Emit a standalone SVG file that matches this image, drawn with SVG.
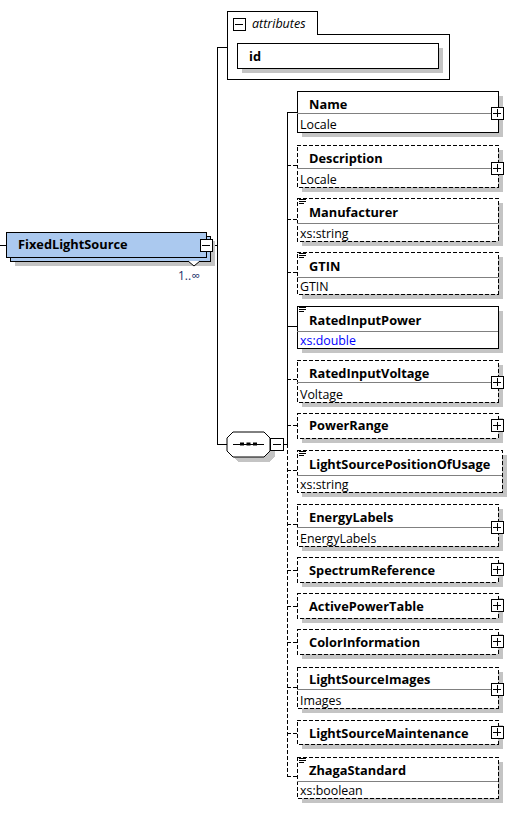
<svg xmlns="http://www.w3.org/2000/svg" width="524" height="816" viewBox="0 0 524 816">
<style>
.bg{fill:#ffffff}
.shadow{fill:#c4c4c4;shape-rendering:crispEdges}
.box{fill:#ffffff;stroke:#000;stroke-width:1;shape-rendering:crispEdges}
.dbox{fill:#ffffff;stroke:#000;stroke-width:1;stroke-dasharray:4 2;shape-rendering:crispEdges}
.sep{stroke:#808080;stroke-width:1;shape-rendering:crispEdges}
.line{stroke:#000;stroke-width:1;fill:none;shape-rendering:crispEdges}
.dline{stroke:#000;stroke-width:1;fill:none;stroke-dasharray:4 2;shape-rendering:crispEdges}
.name{font-family:"Open Sans","Noto Sans","Liberation Sans",sans-serif;font-weight:bold;font-size:12.8px;fill:#000}
.type{font-family:"Open Sans","Noto Sans","Liberation Sans",sans-serif;font-size:12.4px;fill:#000}
.blue{fill:#0000ff}
.icon{fill:#fff;stroke:#000;stroke-width:1;shape-rendering:crispEdges}
.doc{stroke:#000;stroke-width:1;shape-rendering:crispEdges}
.main{fill:#abc9ef;stroke:#000;stroke-width:1;shape-rendering:crispEdges}
</style>
<defs>
<g id="plus">
<rect class="icon" x="-6" y="-6" width="12" height="12"/>
<path class="line" d="M-4 0H4M0 -4V4"/>
</g>
<g id="minus">
<rect class="icon" x="-6" y="-6" width="12" height="12"/>
<path class="line" d="M-4 0H4"/>
</g>
<g id="docicon">
<path class="doc" d="M0 1.5H7M0 3.5H7M0 5.5H5"/>
</g>
</defs>
<rect class="bg" x="0" y="0" width="524" height="816"/>

<g id="connectors">
<path class="line" d="M0 245H6"/>
<path class="line" d="M213 245H217"/>
<path class="line" d="M217 47V444"/>
<path class="line" d="M217 47H227"/>
<path class="line" d="M217 444H227"/>
<path class="line" d="M283 444H287"/>
<path class="line" d="M287 112V444"/>
<path class="dline" d="M287 444V776"/>
<path class="line" d="M287 112H297"/>
<path class="dline" d="M287 165H297"/>
<path class="dline" d="M287 219H297"/>
<path class="dline" d="M287 272H297"/>
<path class="line" d="M287 326H297"/>
<path class="dline" d="M287 379H297"/>
<path class="dline" d="M287 425H297"/>
<path class="dline" d="M287 470H297"/>
<path class="dline" d="M287 524H297"/>
<path class="dline" d="M287 570H297"/>
<path class="dline" d="M287 606H297"/>
<path class="dline" d="M287 642H297"/>
<path class="dline" d="M287 687H297"/>
<path class="dline" d="M287 733H297"/>
<path class="dline" d="M287 776H297"/>
</g>

<g id="FixedLightSource">
<rect class="shadow" x="15" y="241" width="200" height="25"/>
<rect class="main" x="10" y="236" width="200" height="25"/>
<rect class="main" x="6" y="232" width="200" height="25"/>
<path d="M188 261L194 266L200 261" fill="#fff" stroke="#000"/>
<text class="name" x="18" y="249">FixedLightSource</text>
<use href="#minus" x="206" y="245"/>
<text x="178" y="280" style="font-family:'Open Sans','Liberation Sans',sans-serif;font-size:12px;fill:#1a2f6a">1..∞</text>
</g>

<g id="attributes">
<path class="box" d="M227 79V11H317V34H449V79Z"/>
<use href="#minus" x="239" y="24"/>
<text x="252" y="28" style="font-family:'Open Sans','Liberation Sans',sans-serif;font-style:italic;font-size:12.5px;fill:#000">attributes</text>
<g id="attr-id">
<rect class="shadow" x="242" y="48" width="201" height="25"/>
<rect class="box" x="237" y="43" width="201" height="25"/>
<text class="name" x="249" y="61">id</text>
</g>
</g>

<g id="sequence">
<path class="shadow" d="M238 437H269L275 443V456L269 462H238L232 456V443Z"/>
<path class="box" d="M233 432H264L270 438V451L264 457H233L227 451V438Z" style="shape-rendering:auto"/>
<path class="line" d="M233 444H264"/>
<rect x="240" y="442.5" width="4" height="3" fill="#000"/>
<rect x="246.5" y="442.5" width="4" height="3" fill="#000"/>
<rect x="253" y="442.5" width="4" height="3" fill="#000"/>
<rect class="icon" x="270" y="438" width="13" height="12"/>
<path class="line" d="M272.5 444H280.5"/>
</g>

<g id="Name">
<rect class="shadow" x="302" y="96" width="201" height="41"/>
<rect class="box" x="297" y="91" width="201" height="41"/>
<path class="sep" d="M297 113H498"/>
<text class="name" x="309" y="109">Name</text>
<text class="type" x="300" y="129">Locale</text>
<use href="#plus" x="497" y="113"/>
</g>

<g id="Description">
<rect class="shadow" x="302" y="150" width="201" height="42"/>
<rect class="dbox" x="297" y="145" width="201" height="42"/>
<path class="sep" d="M297 168H498"/>
<text class="name" x="309" y="163">Description</text>
<text class="type" x="300" y="184">Locale</text>
<use href="#plus" x="497" y="168"/>
</g>

<g id="Manufacturer">
<rect class="shadow" x="302" y="203" width="201" height="43"/>
<rect class="dbox" x="297" y="198" width="201" height="43"/>
<path class="sep" d="M297 223H498"/>
<use href="#docicon" x="299" y="198"/>
<text class="name" x="309" y="217">Manufacturer</text>
<text class="type" x="300" y="238">xs:string</text>
</g>

<g id="GTIN">
<rect class="shadow" x="302" y="257" width="201" height="42"/>
<rect class="dbox" x="297" y="252" width="201" height="42"/>
<path class="sep" d="M297 277H498"/>
<use href="#docicon" x="299" y="252"/>
<text class="name" x="309" y="271">GTIN</text>
<text class="type" x="300" y="291">GTIN</text>
</g>

<g id="RatedInputPower">
<rect class="shadow" x="302" y="311" width="201" height="42"/>
<rect class="box" x="297" y="306" width="201" height="42"/>
<path class="sep" d="M297 331H498"/>
<use href="#docicon" x="299" y="306"/>
<text class="name" x="309" y="325">RatedInputPower</text>
<text class="type blue" x="300" y="345">xs:double</text>
</g>

<g id="RatedInputVoltage">
<rect class="shadow" x="302" y="365" width="201" height="42"/>
<rect class="dbox" x="297" y="360" width="201" height="42"/>
<path class="sep" d="M297 382H498"/>
<text class="name" x="309" y="378">RatedInputVoltage</text>
<text class="type" x="300" y="399">Voltage</text>
<use href="#plus" x="497" y="382"/>
</g>

<g id="PowerRange">
<rect class="shadow" x="302" y="418" width="201" height="25"/>
<rect class="dbox" x="297" y="413" width="201" height="25"/>
<text class="name" x="309" y="430">PowerRange</text>
<use href="#plus" x="497" y="425.5"/>
</g>

<g id="LightSourcePositionOfUsage">
<rect class="shadow" x="302" y="455" width="205" height="42"/>
<rect class="dbox" x="297" y="450" width="205" height="42"/>
<path class="sep" d="M297 475H502"/>
<use href="#docicon" x="299" y="450"/>
<text class="name" x="309" y="469">LightSourcePositionOfUsage</text>
<text class="type" x="300" y="489">xs:string</text>
</g>

<g id="EnergyLabels">
<rect class="shadow" x="302" y="509" width="201" height="42"/>
<rect class="dbox" x="297" y="504" width="201" height="42"/>
<path class="sep" d="M297 527H498"/>
<text class="name" x="309" y="522">EnergyLabels</text>
<text class="type" x="300" y="543">EnergyLabels</text>
<use href="#plus" x="497" y="527"/>
</g>

<g id="SpectrumReference">
<rect class="shadow" x="302" y="562" width="201" height="25"/>
<rect class="dbox" x="297" y="557" width="201" height="25"/>
<text class="name" x="309" y="575">SpectrumReference</text>
<use href="#plus" x="497" y="569.5"/>
</g>

<g id="ActivePowerTable">
<rect class="shadow" x="302" y="598" width="201" height="25"/>
<rect class="dbox" x="297" y="593" width="201" height="25"/>
<text class="name" x="309" y="611">ActivePowerTable</text>
<use href="#plus" x="497" y="605.5"/>
</g>

<g id="ColorInformation">
<rect class="shadow" x="302" y="634" width="201" height="25"/>
<rect class="dbox" x="297" y="629" width="201" height="25"/>
<text class="name" x="309" y="647">ColorInformation</text>
<use href="#plus" x="497" y="641.5"/>
</g>

<g id="LightSourceImages">
<rect class="shadow" x="302" y="672" width="201" height="41"/>
<rect class="dbox" x="297" y="667" width="201" height="41"/>
<path class="sep" d="M297 689H498"/>
<text class="name" x="309" y="684">LightSourceImages</text>
<text class="type" x="300" y="705">Images</text>
<use href="#plus" x="497" y="689"/>
</g>

<g id="LightSourceMaintenance">
<rect class="shadow" x="302" y="725" width="201" height="24"/>
<rect class="dbox" x="297" y="720" width="201" height="24"/>
<text class="name" x="309" y="738">LightSourceMaintenance</text>
<use href="#plus" x="497" y="732"/>
</g>

<g id="ZhagaStandard">
<rect class="shadow" x="302" y="762" width="201" height="41"/>
<rect class="dbox" x="297" y="757" width="201" height="41"/>
<path class="sep" d="M297 781H498"/>
<use href="#docicon" x="299" y="757"/>
<text class="name" x="309" y="775">ZhagaStandard</text>
<text class="type" x="300" y="795">xs:boolean</text>
</g>
</svg>
